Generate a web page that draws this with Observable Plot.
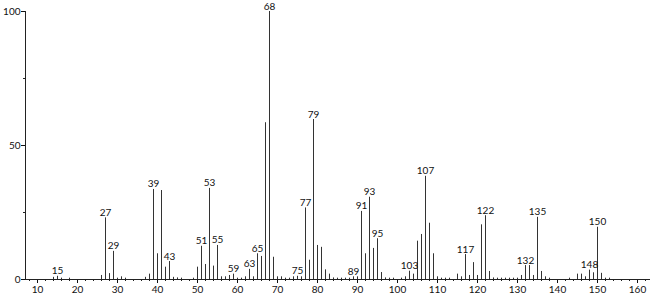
<!DOCTYPE html>
<html>
<head>
<meta charset="utf-8">
<script src="https://cdn.jsdelivr.net/npm/d3@7"></script>
<script src="https://cdn.jsdelivr.net/npm/@observablehq/plot@0.6"></script>
<style>
  html, body { margin: 0; padding: 0; background: #fff; }
  #chart svg { display: block; }
</style>
</head>
<body>
<div id="chart"></div>
<script>
const mz = [14,15,16,18,26,27,28,29,30,31,32,37,38,39,40,41,42,43,44,45,46,49,50,51,52,53,54,55,56,57,58,59,60,61,62,63,64,65,66,67,68,69,70,71,72,73,74,75,76,77,78,79,80,81,82,83,84,85,86,87,88,89,90,91,92,93,94,95,96,97,98,99,101,102,103,104,105,106,107,108,109,110,111,112,113,115,116,117,118,119,120,121,122,123,124,125,126,127,128,129,130,131,132,133,134,135,136,137,138,143,145,146,147,148,149,150,151,152,153];
const intensity = [0.8,1.2,0.5,0.5,1.5,23,2.2,10.5,0.5,1,0.5,0.8,2,33.6,9.6,33.2,4.6,6.7,0.8,0.6,0.5,0.5,4.6,12.4,5.6,34,5,12.7,1,1,1.5,2,0.5,0.5,1,3.8,1,9.6,8.6,58.5,100,8.3,1,1,0.5,0.5,1,1.2,1,26.7,7.2,59.7,12.7,12,3.6,2,0.6,0.5,0.5,0.5,0.5,1,1,25.4,9.6,30.7,11.6,15.2,2.6,0.6,0.5,0.5,0.5,1,3.1,2,14.3,16.8,38.5,21,9.6,1,0.5,0.5,0.5,2,1,9.3,1.5,6.3,1.5,20.4,23.8,3,0.6,0.5,0.5,0.5,0.5,0.5,0.5,1.5,5.2,5.2,1.5,23.2,3,1,0.5,0.5,2,2,1,3.5,2.5,19.5,2.3,0.5,0.5];
const labeledPeaks = [15,27,29,39,43,51,53,55,59,63,65,68,75,77,79,89,91,93,95,103,107,117,122,132,135,148,150];
const xDomain = [7, 163.25];
const yDomain = [0, 100];
const xMajorTicks = d3.range(10, 161, 10);
const xMinorTicks = d3.range(8, 163, 2);
const yMajorTicks = [0, 50, 100];
const yMinorTicks = [25, 75];

const peaks = mz.map((m, i) => ({mz: m, i: intensity[i]}));
const labels = peaks.filter(d => labeledPeaks.includes(d.mz));

const chart = Plot.plot({
  width: 650,
  height: 296,
  marginLeft: 25,
  marginRight: 0,
  marginTop: 11,
  marginBottom: 17,
  style: {fontFamily: "Lato, 'DejaVu Sans', sans-serif", fontSize: "10px", color: "#111", background: "#fff"},
  x: {domain: xDomain, label: null},
  y: {domain: yDomain, label: null},
  marks: [
    Plot.axisX({ticks: xMinorTicks, tickSize: 2, text: null, stroke: "#222", label: null}),
    Plot.axisX({ticks: xMajorTicks, tickSize: 4, tickPadding: 2, tickFormat: d => d, fontSize: 10, fill: "#111", label: null}),
    Plot.axisY({ticks: yMinorTicks, tickSize: 2, text: null, stroke: "#222", label: null}),
    Plot.axisY({ticks: yMajorTicks, tickSize: 4, tickPadding: 1, fontSize: 10, fill: "#111", label: null}),
    Plot.ruleX(peaks, {x: "mz", y1: 0, y2: "i", stroke: "#333", strokeWidth: 1}),
    Plot.text(labels, {x: "mz", y: "i", text: d => String(d.mz), dy: -2, lineAnchor: "bottom", fontSize: 10, fill: "#111"}),
    Plot.ruleY([yDomain[0]], {stroke: "#222"}),
    Plot.ruleX([xDomain[0]], {stroke: "#222"})
  ]
});
document.getElementById("chart").append(chart);
</script>
</body>
</html>
